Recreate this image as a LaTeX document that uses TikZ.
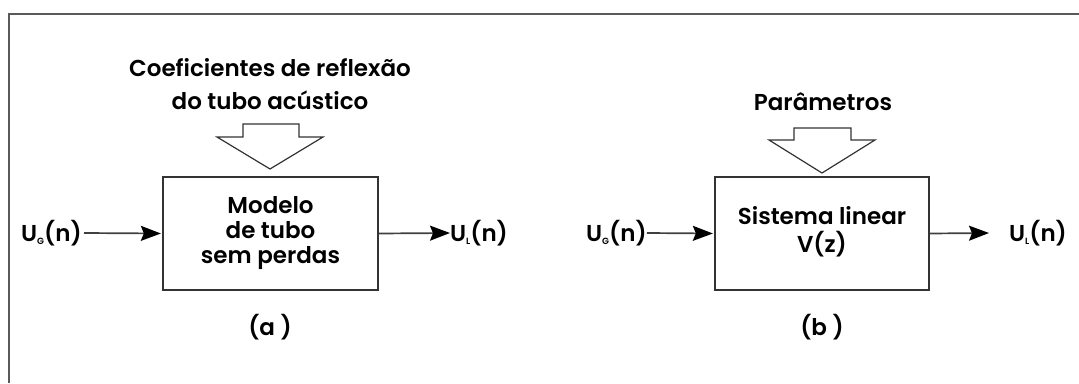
\documentclass[tikz,border=0pt]{standalone}
\usepackage{fontspec}
\setmainfont{Poppins}[UprightFont=* SemiBold]
\usetikzlibrary{arrows.meta}
\begin{document}
\begin{tikzpicture}[x=1pt,y=-1pt,
  lbl/.style={font=\fontsize{23}{27}\selectfont, inner sep=0pt, text=black},
  blockbox/.style={draw=black!80, line width=1.3pt, inner sep=0pt},
  hollow/.style={draw=black!80, line width=1.2pt, fill=white, line join=miter},
  sig/.style={draw=black!75, line width=1.7pt,
    -{Stealth[length=20pt,width=15pt,inset=3pt,color=black]}},
  frameline/.style={draw=black!65, line width=2.2pt}]
\useasboundingbox (0,0) rectangle (1079,383);
\newcommand{\subG}{{\fontsize{9}{9}\selectfont\raisebox{-3pt}{G}}}
\newcommand{\subL}{{\fontsize{9}{9}\selectfont\raisebox{-3pt}{L}}}
% frame
\draw[frameline] (1079,14) -- (9,14) -- (9,383);

% ---- (a) lossless tube model ----
\node[blockbox, minimum width=215pt, minimum height=113pt] (boxa) at (270.5,233.5) {};
\node[lbl, align=center] (ta) at (270.5,233) {Modelo\\[-2pt]de tubo\\[-2pt]sem perdas};
\node[lbl] (ca1) at (270,68) {Coeficientes de reflexão};
\node[lbl] (ca2) at (270,100) {do tubo acústico};
\draw[hollow] (243,124) -- (299,124) -- (299,137) -- (323,137) -- (270,169)
  -- (217,137) -- (243,137) -- cycle;
\node[lbl, anchor=west] (uga) at (21,233) {U\subG(n)};
\node[lbl, anchor=west] (ula) at (450,233) {U\subL(n)};
\coordinate (ina) at (84,233);
\draw[sig, shorten >=1.5pt] (ina) -- (boxa.west);
\draw[sig] (boxa.east) -- (ula.west);
\node[lbl] (la) at (270,327) {(a )};

% ---- (b) linear system ----
\node[blockbox, minimum width=214pt, minimum height=113pt] (boxb) at (822,233.5) {};
\node[lbl, align=center] (tb) at (822,232) {Sistema linear\\[1pt]V(z)};
\node[lbl] (pb) at (823,102) {Parâmetros};
\draw[hollow] (794,128) -- (851,128) -- (851,140) -- (875,140) -- (822,173)
  -- (769,140) -- (794,140) -- cycle;
\node[lbl, anchor=west] (ugb) at (586,233) {U\subG(n)};
\node[lbl, anchor=west] (ulb) at (1009,233) {U\subL(n)};
\coordinate (outb) at (989,233);
\draw[sig, shorten >=1.5pt] (ugb.east) -- (boxb.west);
\draw[sig] (boxb.east) -- (outb);
\node[lbl] (lb) at (822,327) {(b )};
\end{tikzpicture}
\end{document}
